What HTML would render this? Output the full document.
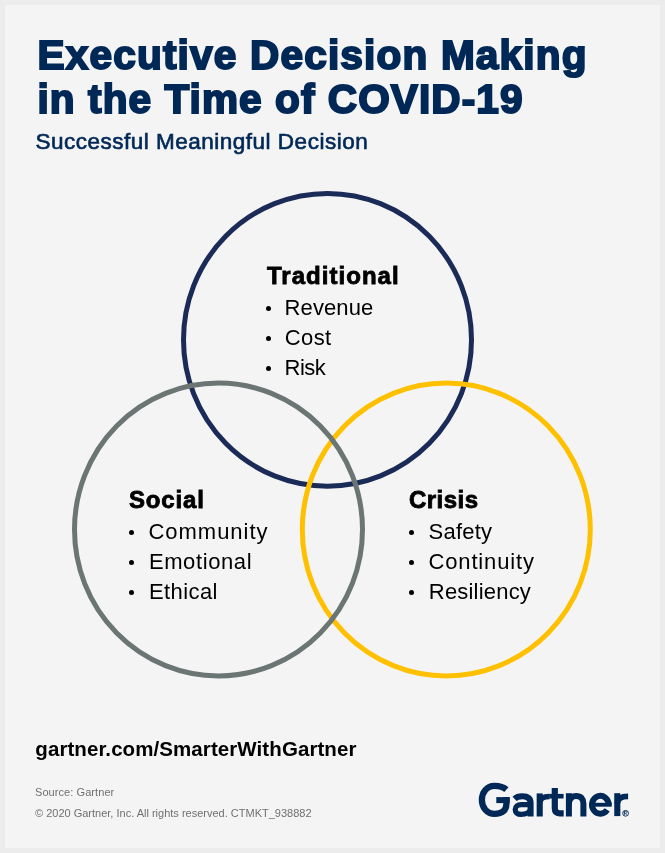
<!DOCTYPE html>
<html>
<head>
<meta charset="utf-8">
<style>
html,body{margin:0;padding:0;}
body{width:665px;height:853px;background:#ececec;position:relative;overflow:hidden;font-family:"Liberation Sans",sans-serif;}
.panel{position:absolute;left:5px;top:5px;width:655px;height:843px;background:#f4f4f4;}
.t{position:absolute;white-space:nowrap;line-height:1;}
.title{left:37.5px;top:32.7px;font-size:40.6px;line-height:44px;font-weight:bold;color:#002856;letter-spacing:1px;-webkit-text-stroke:2px #002856;}
.sub{left:35.5px;top:131px;font-size:22.5px;color:#002856;letter-spacing:0.5px;-webkit-text-stroke:0.65px #002856;}
.h{font-size:23.3px;font-weight:bold;color:#000;-webkit-text-stroke:0.8px #000;transform:scaleX(1.03);transform-origin:0 0;}
.b{font-size:22px;color:#000;}
.dot{position:absolute;width:5px;height:5px;border-radius:50%;background:#000;}
svg{position:absolute;left:0;top:0;}
.url{left:35.3px;top:738.5px;font-size:20.5px;font-weight:bold;color:#000;letter-spacing:0.08px;}
.small{font-size:11px;color:#707070;}
</style>
</head>
<body>
<div id="root" style="position:absolute;left:0;top:0;width:665px;height:853px;will-change:transform;">
<div class="panel"></div>
<div class="t title"><span style="letter-spacing:1.17px">Executive Decision Making</span><br><span style="letter-spacing:1.07px">in the Time of COVID-19</span></div>
<div class="t sub">Successful Meaningful Decision</div>

<svg width="665" height="853" viewBox="0 0 665 853">
  <ellipse cx="327.5" cy="339.8" rx="144" ry="146.4" fill="none" stroke="#1a2b57" stroke-width="5"/>
  <ellipse cx="446.3" cy="529.5" rx="144" ry="146.4" fill="none" stroke="#ffc000" stroke-width="5"/>
  <ellipse cx="218.5" cy="529.5" rx="144" ry="146.4" fill="none" stroke="#6b7574" stroke-width="5"/>
</svg>

<div class="t h" style="left:266.5px;top:265.3px;letter-spacing:1px">Traditional</div>
<div class="dot" style="left:266px;top:306px;"></div>
<div class="dot" style="left:266px;top:336px;"></div>
<div class="dot" style="left:266px;top:366px;"></div>
<div class="t b" style="left:284.6px;top:296.9px;letter-spacing:0.09px">Revenue</div>
<div class="t b" style="left:284.8px;top:326.9px;letter-spacing:0.4px">Cost</div>
<div class="t b" style="left:284.6px;top:356.9px;letter-spacing:-0.57px">Risk</div>

<div class="t h" style="left:128.8px;top:489.2px;letter-spacing:0.8px">Social</div>
<div class="dot" style="left:129px;top:530px;"></div>
<div class="dot" style="left:129px;top:560px;"></div>
<div class="dot" style="left:129px;top:590px;"></div>
<div class="t b" style="left:148.4px;top:520.8px;letter-spacing:0.99px">Community</div>
<div class="t b" style="left:148.9px;top:550.8px;letter-spacing:0.6px">Emotional</div>
<div class="t b" style="left:148.9px;top:580.8px;letter-spacing:0.42px">Ethical</div>

<div class="t h" style="left:408.8px;top:489.2px;letter-spacing:0.45px">Crisis</div>
<div class="dot" style="left:409px;top:530px;"></div>
<div class="dot" style="left:409px;top:560px;"></div>
<div class="dot" style="left:409px;top:590px;"></div>
<div class="t b" style="left:428.6px;top:520.8px;letter-spacing:0.22px">Safety</div>
<div class="t b" style="left:428.5px;top:550.8px;letter-spacing:0.84px">Continuity</div>
<div class="t b" style="left:428.8px;top:580.8px;letter-spacing:0.2px">Resiliency</div>

<div class="t url">gartner.com/SmarterWithGartner</div>
<div class="t small" style="left:35px;top:786.5px;letter-spacing:0.07px">Source: Gartner</div>
<div class="t small" style="left:35px;top:807.5px;">© 2020 Gartner, Inc. All rights reserved. CTMKT_938882</div>
<svg width="665" height="853" viewBox="0 0 665 853" style="position:absolute;left:0;top:0">
<g fill="none" stroke="#002856" stroke-width="6.3" stroke-linecap="butt">
  <path d="M506.4 789.6 C503.4 786.9 499.2 785.9 494.5 785.9 C486.9 785.9 481.9 792.3 481.9 799.9 C481.9 807.5 486.9 813.9 494.5 813.9 C502.6 813.9 506.4 810 506.4 804 L506.4 797.1"/>
  <path d="M514.6 798.8 C516.3 797.1 518.8 796.3 522.1 796.3 C527.6 796.3 530.6 798.6 530.6 803.2 L530.6 816.6" stroke-width="6"/>
  <path d="M530.6 804.6 L521.2 804.6 C517.5 804.6 515.2 806.6 515.2 809.6 C515.2 812.6 517.5 814.4 521.2 814.4 C525.4 814.4 530.6 812.6 530.6 808.6" stroke-width="5.2"/>
  <path d="M539.7 816.5 L539.7 793.4" stroke-width="6.1"/>
  <path d="M539.7 803.5 C540.2 798.3 543.4 796.5 549.6 796.5" stroke-width="5.4"/>
  <path d="M554.8 788 L554.8 808.3 C554.8 812 556.6 813.3 559.6 813.3 L563.7 813.3" stroke-width="6.2"/>
  <path d="M568.9 816.5 L568.9 793.2" stroke-width="6"/>
  <path d="M568.9 804.5 C568.9 798.5 572 796 576.2 796 C580.7 796 583.4 798.7 583.4 803.5 L583.4 816.5" stroke-width="6"/>
  <path d="M608.7 804.8 A8.35 8.95 0 1 0 607.2 809.9" stroke-width="6"/>
  <path d="M617.3 816.1 L617.3 793.2" stroke-width="6.1"/>
  <path d="M617.3 803.5 C617.8 798.3 621.1 796.3 628.1 796.3" stroke-width="5.8"/>
  <circle cx="625.6" cy="813.3" r="2.9" stroke-width="0.9"/>
</g>
<g fill="#002856">
  <rect x="496.3" y="797.1" width="13.4" height="6"/>
  <rect x="549.3" y="793.9" width="14.3" height="4.6"/>
  <rect x="591.5" y="802.8" width="20.2" height="3.9"/>
  <path d="M624.4 811.5 h1.5 a0.9 0.9 0 0 1 0 1.8 h-1.5 z M624.4 811.5 v3.7 M625.6 813.3 l1 1.9" fill="none" stroke="#002856" stroke-width="0.7"/>
</g>
</svg>
</div>
</body>
</html>
